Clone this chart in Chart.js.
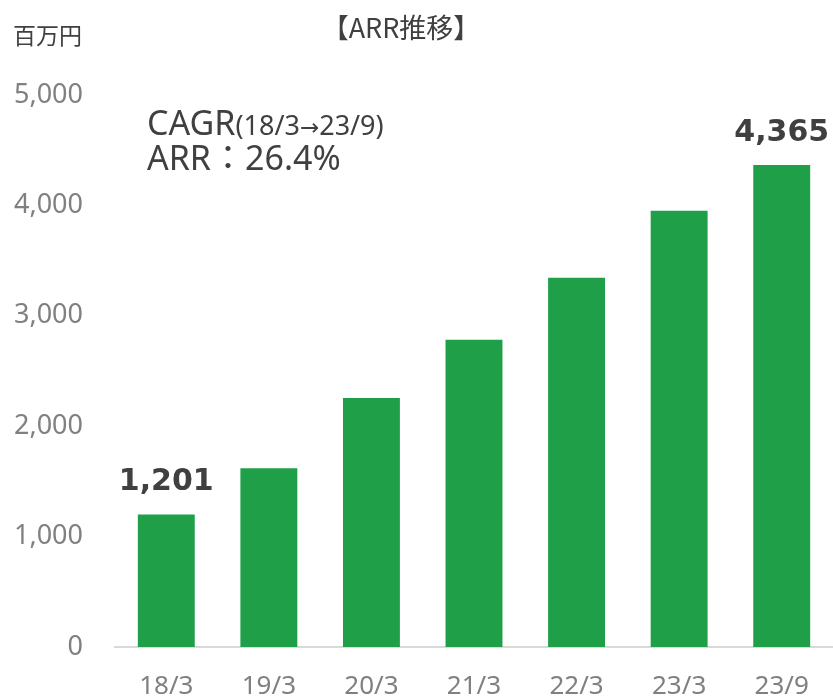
<!DOCTYPE html>
<html lang="ja">
  <head>
    <meta charset="UTF-8" />
    <title>ARR推移</title>
    <style>
      * {
        box-sizing: border-box;
        margin: 0;
        padding: 0;
      }

      body {
        background-color: #ffffff;
      }

      .chart-box {
        position: relative;
        width: 833px;
        height: 698px;
      }
    </style>
    <script src="https://cdn.jsdelivr.net/npm/chart.js"></script>
  </head>
  <body>
    <div class="chart-box">
      <canvas id="arrChart"></canvas>
    </div>
    <script>
      const periods = ["18/3", "19/3", "20/3", "21/3", "22/3", "23/3", "23/9"];
      const arrValues = [1201, 1618, 2256, 2782, 3345, 3952, 4365];
      const labelledIndexes = [0, 6];
      const yTicks = [0, 1000, 2000, 3000, 4000, 5000];

      const chartTitle = "【ARR推移】";
      const unitText = "百万円";

      const latinFont = "'Noto Sans', sans-serif";
      const cjkFont = "'Noto Sans CJK JP', 'Noto Sans', sans-serif";
      const arrowFont = "'DejaVu Sans', sans-serif";

      // CAGR note, drawn as runs of [text, font]
      const cagrLine1 = [
        ["CAGR", "34px " + latinFont],
        ["(18/3", "27px " + latinFont],
        ["→", "23px " + arrowFont],
        ["23/9)", "27px " + latinFont],
      ];
      const cagrLine2 = [
        ["ARR", "34px " + latinFont],
        ["：", "34px " + cjkFont],
        ["26.4%", "34px " + latinFont],
      ];

      function drawRuns(ctx, runs, x, y) {
        runs.forEach(([text, font]) => {
          ctx.font = font;
          ctx.fillText(text, x, y);
          x += ctx.measureText(text).width;
        });
      }

      // texts drawn on top of the chart: title, unit, CAGR note, bar values
      const overlayText = {
        id: "overlayText",
        afterDatasetsDraw(chart) {
          const ctx = chart.ctx;
          ctx.save();
          ctx.textBaseline = "alphabetic";
          ctx.fillStyle = "#404040";

          ctx.font = "27px " + cjkFont;
          ctx.textAlign = "center";
          ctx.fillText(chartTitle, 401, 38);

          ctx.font = "23px " + cjkFont;
          ctx.textAlign = "left";
          ctx.fillText(unitText, 13, 44);

          drawRuns(ctx, cagrLine1, 147, 135);
          drawRuns(ctx, cagrLine2, 147, 170);

          const meta = chart.getDatasetMeta(0);
          ctx.font = "bold 30px 'DejaVu Sans', sans-serif";
          ctx.textAlign = "center";
          labelledIndexes.forEach((i) => {
            const bar = meta.data[i];
            ctx.fillText(arrValues[i].toLocaleString("en-US"), bar.x, bar.y - 24);
          });
          ctx.restore();
        },
      };

      new Chart(document.getElementById("arrChart"), {
        type: "bar",
        data: {
          labels: periods,
          datasets: [
            {
              data: arrValues,
              backgroundColor: "#1f9f48",
              barPercentage: 0.555,
              categoryPercentage: 1,
            },
          ],
        },
        options: {
          responsive: true,
          maintainAspectRatio: false,
          animation: false,
          layout: {
            padding: { top: 95, right: -1.5, bottom: 0, left: 0 },
          },
          plugins: {
            legend: { display: false },
            title: { display: false },
            tooltip: { enabled: false },
          },
          scales: {
            x: {
              grid: { display: false, drawTicks: false },
              border: { display: true, color: "#d9d9d9", width: 2 },
              ticks: {
                color: "#808080",
                font: { family: latinFont, size: 26 },
                padding: 24,
              },
              afterFit(scale) {
                scale.height = 51;
              },
            },
            y: {
              min: 0,
              max: 5000,
              afterBuildTicks(scale) {
                scale.ticks = yTicks.map((v) => ({ value: v }));
              },
              grid: { display: false, drawTicks: false },
              border: { display: false },
              ticks: {
                color: "#808080",
                font: { family: latinFont, size: 27 },
                padding: 32,
                callback: (v) => v.toLocaleString("en-US"),
              },
              afterFit(scale) {
                scale.width = 115;
              },
            },
          },
        },
        plugins: [overlayText],
      });
    </script>
  </body>
</html>
